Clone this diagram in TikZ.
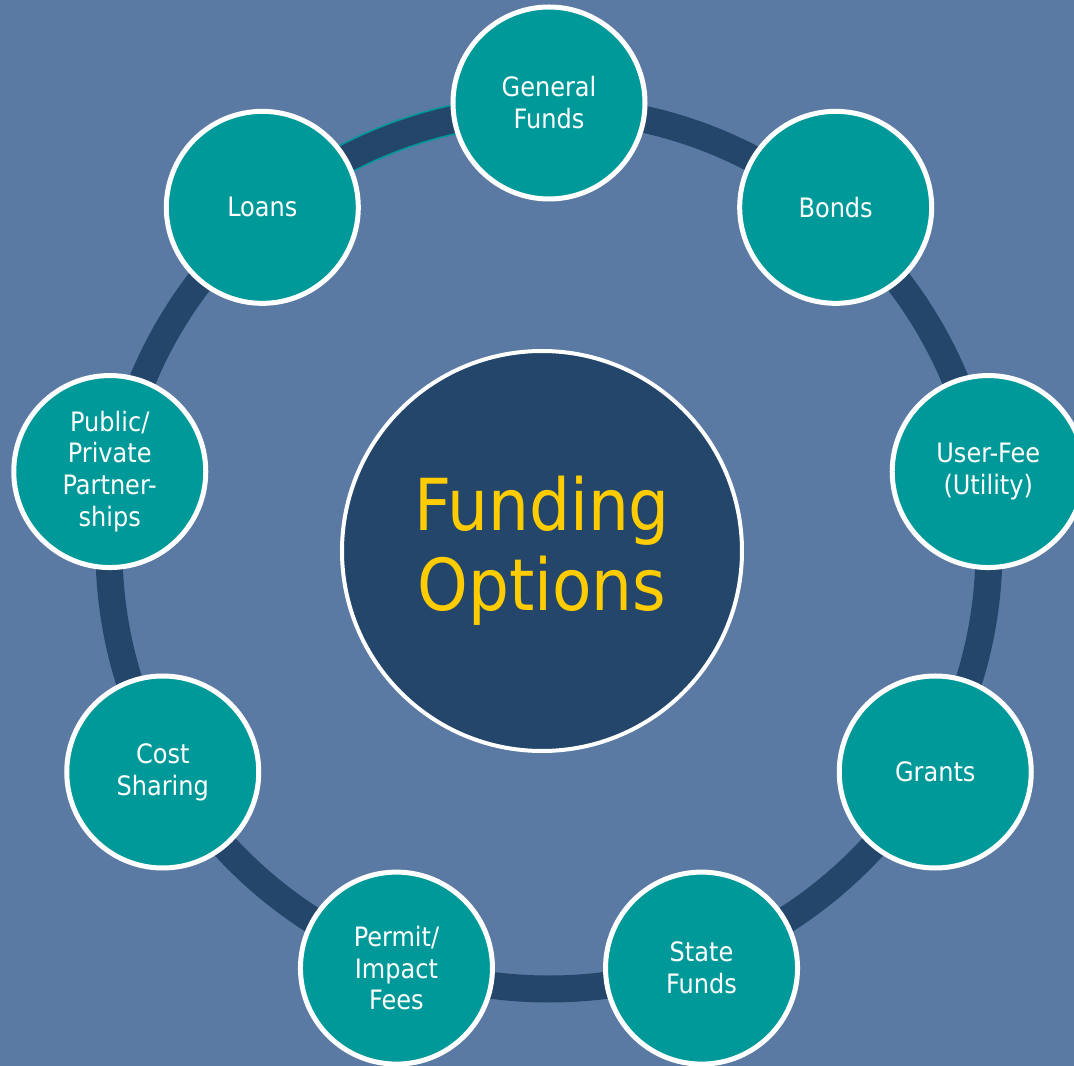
\documentclass[tikz,border=0pt]{standalone}
\usepackage{fontspec}
\setmainfont{DejaVu Sans Condensed}
\usepackage{tikz}
\usetikzlibrary{calc}

\definecolor{slateblue}{HTML}{5A7AA4}
\definecolor{ringnavy}{HTML}{23466A}
\definecolor{fundteal}{HTML}{009999}
\definecolor{goldtext}{HTML}{FFCC00}

\tikzset{
	option/.style={circle, draw=white, line width=0.125cm, fill=fundteal, minimum size=4.8cm, inner sep=0pt, align=center, text=white, font=\fontsize{19}{22.7}\selectfont},
	hub/.style={circle, draw=white, line width=0.1cm, fill=ringnavy, minimum size=10cm, inner sep=0pt, align=center, text=goldtext, font=\fontsize{51}{57}\selectfont}
}

\begin{document}
\begin{tikzpicture}
				\fill[slateblue] (-13.725,-12.925) rectangle (13.125,13.725);
				\useasboundingbox (-13.725,-12.925) rectangle (13.125,13.725);

				\draw[ringnavy, line width=0.675cm] (0,0) coordinate (O) circle (11);
				\draw[fundteal, line width=0.76cm] (130:11) arc (130:90:11);
				\draw[ringnavy, line width=0.675cm] (130:11) arc (130:90:11);

				\node[hub] (funding) at (-0.175,-0.05) {Funding\\Options};

				\foreach \ang/\name/\txt in {90/general/{General\\Funds}, 50/bonds/{Bonds}, 10/userfee/{User-Fee\\(Utility)}, -30/grants/{Grants}, -70/state/{State\\Funds}, -110/permit/{Permit/\\Impact\\Fees}, -150/cost/{Cost\\Sharing}, 170/public/{Public/\\Private\\Partner-\\ships}, 130/loans/{Loans}}
					\node[option] (\name) at (\ang:11.15) {\txt};
			\end{tikzpicture}
\end{document}
